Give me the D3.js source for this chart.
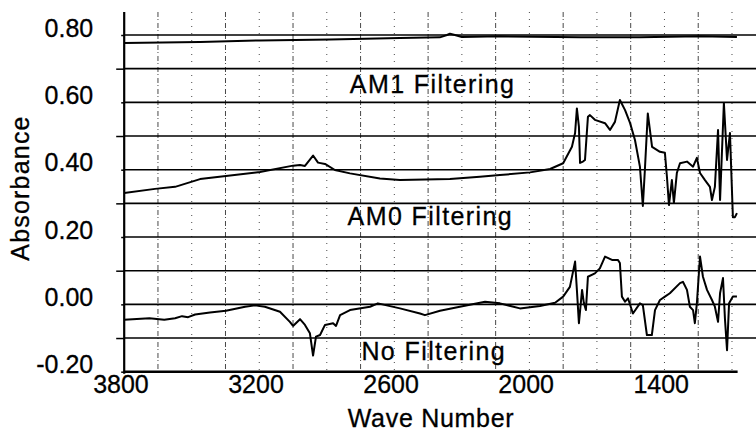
<!DOCTYPE html>
<html>
<head>
<meta charset="utf-8">
<script src="https://cdn.jsdelivr.net/npm/d3@7"></script>
<style>
  body { margin: 0; background: #fff; }
  svg text { font-family: "Liberation Sans", Arial, Helvetica, sans-serif; fill: #000; }
</style>
</head>
<body>
<div id="chart"></div>
<script>
// y tick labels and the extra (unlabelled) grid levels
var yLabelTicks = [-0.2, 0.0, 0.2, 0.4, 0.6, 0.8];
var yLineLevels = [-0.1, 0.0, 0.1, 0.2, 0.3, 0.4, 0.5, 0.6, 0.7, 0.8];
var xLabelTicks = [3800, 3200, 2600, 2000, 1400];

// [wave number, absorbance]
var am1Filtering = [
  [3800, 0.776], [3463, 0.779], [3197, 0.784], [2886, 0.787], [2575, 0.791],
  [2398, 0.793], [2366, 0.800], [2353, 0.804], [2331, 0.800], [2300, 0.794],
  [2131, 0.796], [1775, 0.793], [1509, 0.793], [1242, 0.796], [1078, 0.794]
];

var am0Filtering = [
  [3800, 0.331], [3663, 0.343], [3574, 0.349], [3463, 0.372], [3348, 0.381],
  [3197, 0.393], [3050, 0.412], [3019, 0.414], [2997, 0.411], [2961, 0.442],
  [2939, 0.421], [2908, 0.417], [2864, 0.399], [2797, 0.389], [2664, 0.374],
  [2575, 0.369], [2353, 0.372], [2220, 0.379], [2131, 0.384], [1997, 0.392],
  [1908, 0.402], [1850, 0.419], [1811, 0.468], [1797, 0.509], [1789, 0.582],
  [1780, 0.528], [1775, 0.420], [1762, 0.424], [1753, 0.429], [1740, 0.557],
  [1731, 0.562], [1709, 0.548], [1664, 0.538], [1642, 0.518], [1620, 0.542],
  [1598, 0.607], [1575, 0.577], [1553, 0.539], [1531, 0.488], [1509, 0.409],
  [1496, 0.292], [1487, 0.399], [1474, 0.567], [1455, 0.468], [1420, 0.453],
  [1398, 0.450], [1389, 0.379], [1380, 0.295], [1367, 0.369], [1358, 0.301],
  [1345, 0.390], [1331, 0.419], [1300, 0.424], [1273, 0.409], [1256, 0.435],
  [1242, 0.390], [1220, 0.369], [1198, 0.349], [1189, 0.310], [1176, 0.349],
  [1162, 0.518], [1153, 0.310], [1136, 0.598], [1122, 0.429], [1109, 0.509],
  [1096, 0.259], [1087, 0.259], [1078, 0.271]
];

var noFiltering = [
  [3800, -0.046], [3688, -0.041], [3622, -0.046], [3574, -0.041], [3543, -0.035],
  [3516, -0.038], [3485, -0.030], [3419, -0.024], [3348, -0.019], [3263, -0.007],
  [3219, -0.003], [3175, -0.007], [3108, -0.022], [3064, -0.052], [3050, -0.064],
  [3019, -0.044], [2997, -0.061], [2975, -0.086], [2961, -0.152], [2948, -0.096],
  [2930, -0.091], [2908, -0.061], [2872, -0.056], [2859, -0.064], [2841, -0.032],
  [2797, -0.017], [2708, -0.007], [2673, 0.003], [2575, -0.012], [2486, -0.027],
  [2464, -0.032], [2397, -0.019], [2309, -0.007], [2197, 0.008], [2131, 0.003],
  [2042, -0.012], [1953, -0.005], [1886, 0.005], [1850, 0.023], [1820, 0.052],
  [1797, 0.127], [1789, 0.043], [1780, -0.056], [1766, 0.043], [1758, 0.004],
  [1749, -0.017], [1740, 0.082], [1709, 0.092], [1687, 0.107], [1664, 0.142],
  [1633, 0.132], [1607, 0.132], [1598, 0.123], [1589, 0.023], [1575, 0.008],
  [1562, 0.018], [1540, -0.027], [1509, 0.003], [1496, -0.002], [1478, -0.091],
  [1456, -0.091], [1442, -0.017], [1420, 0.013], [1398, 0.023], [1376, 0.033],
  [1331, 0.063], [1318, 0.067], [1300, 0.043], [1287, -0.007], [1273, -0.017],
  [1265, -0.056], [1256, 0.003], [1242, 0.142], [1229, 0.082], [1211, 0.043],
  [1189, 0.013], [1176, -0.007], [1162, -0.052], [1153, 0.033], [1140, 0.078],
  [1131, -0.046], [1122, -0.136], [1113, 0.003], [1096, 0.023], [1078, 0.023]
];

var seriesLabels = [
  { text: "AM1 Filtering", x: 2430, y: 0.628 },
  { text: "AM0 Filtering", x: 2440, y: 0.236 },
  { text: "No Filtering", x: 2425, y: -0.165 }
];

var width = 756, height = 441;

var x = d3.scaleLinear().domain([3800, 1000]).range([124.2, 754.5]);
var y = d3.scaleLinear().domain([0.8, -0.2]).range([35, 371.7]);

var svg = d3.select("#chart").append("svg")
    .attr("width", width)
    .attr("height", height);

// vertical broken grid lines
var gridX = d3.range(3650, 1050, -150);
svg.append("g")
    .selectAll("line")
    .data(gridX)
    .enter()
    .append("line")
    .attr("x1", d => x(d))
    .attr("x2", d => x(d))
    .attr("y1", 12)
    .attr("y2", y(-0.2))
    .attr("stroke", "#333")
    .attr("stroke-width", 0.9)
    .attr("stroke-dasharray", d => ((3800 - d) / 150) % 2 === 1 ? "5,2,1,3" : "1,6");

// horizontal solid lines
svg.append("g")
    .selectAll("line")
    .data(yLineLevels)
    .enter()
    .append("line")
    .attr("x1", x(3800))
    .attr("x2", width)
    .attr("y1", d => y(d))
    .attr("y2", d => y(d))
    .attr("stroke", "#000")
    .attr("stroke-width", 1.6);

// y axis: short ticks with labels, longer ticks in between
var yAxis = svg.append("g")
    .attr("transform", "translate(" + x(3800) + ",0)")
    .call(d3.axisLeft(y).tickValues(yLabelTicks).tickSize(3).tickPadding(28)
        .tickFormat(d3.format(".2f")));
yAxis.select(".domain").remove();
yAxis.selectAll("text")
    .attr("font-size", 25)
    .attr("dy", "0.05em")
    .attr("stroke", "#000")
    .attr("stroke-width", 0.3)
    .text(d => d < 0 ? "-" + d3.format(".2f")(-d) : d3.format(".2f")(d));
yAxis.selectAll("line").attr("stroke-width", 1.5);

svg.append("g")
    .attr("transform", "translate(" + x(3800) + ",0)")
    .call(d3.axisLeft(y).tickValues([-0.1, 0.1, 0.3, 0.5, 0.7]).tickSize(8).tickFormat(""))
    .call(g => g.select(".domain").remove())
    .selectAll("line").attr("stroke-width", 1.5);

// axis lines
svg.append("line")
    .attr("x1", x(3800)).attr("x2", x(3800))
    .attr("y1", 12).attr("y2", y(-0.2) + 2)
    .attr("stroke", "#000").attr("stroke-width", 2.2);
svg.append("line")
    .attr("x1", x(3800)).attr("x2", x(1075))
    .attr("y1", y(-0.2)).attr("y2", y(-0.2))
    .attr("stroke", "#000").attr("stroke-width", 2.4);

// x axis labels
var xAxis = svg.append("g")
    .attr("transform", "translate(0," + y(-0.2) + ")")
    .call(d3.axisBottom(x).tickValues(xLabelTicks).tickSize(0).tickPadding(6)
        .tickFormat(d3.format("d")));
xAxis.select(".domain").remove();
xAxis.selectAll("text")
    .attr("font-size", 25)
    .attr("dx", "-0.15em")
    .attr("dy", "0.6em")
    .attr("stroke", "#000")
    .attr("stroke-width", 0.3);

// traces
var line = d3.line()
    .x(d => x(d[0]))
    .y(d => y(d[1]));

[am1Filtering, am0Filtering, noFiltering].forEach(function(s) {
    svg.append("path")
        .datum(s)
        .attr("d", line)
        .attr("fill", "none")
        .attr("stroke", "#000")
        .attr("stroke-width", 2)
        .attr("stroke-linejoin", "round");
});

// series captions
svg.append("g")
    .selectAll("text")
    .data(seriesLabels)
    .enter()
    .append("text")
    .attr("x", d => x(d.x))
    .attr("y", d => y(d.y))
    .attr("text-anchor", "middle")
    .attr("font-size", 25)
    .attr("letter-spacing", 1.4)
    .attr("stroke", "#000")
    .attr("stroke-width", 0.3)
    .text(d => d.text);

// axis titles
svg.append("text")
    .attr("x", 431)
    .attr("y", 427)
    .attr("text-anchor", "middle")
    .attr("font-size", 25)
    .attr("letter-spacing", 0.7)
    .attr("stroke", "#000")
    .attr("stroke-width", 0.3)
    .text("Wave Number");

svg.append("text")
    .attr("transform", "translate(29,188) rotate(-90)")
    .attr("text-anchor", "middle")
    .attr("font-size", 25)
    .attr("letter-spacing", 1.2)
    .attr("stroke", "#000")
    .attr("stroke-width", 0.3)
    .text("Absorbance");
</script>
</body>
</html>
